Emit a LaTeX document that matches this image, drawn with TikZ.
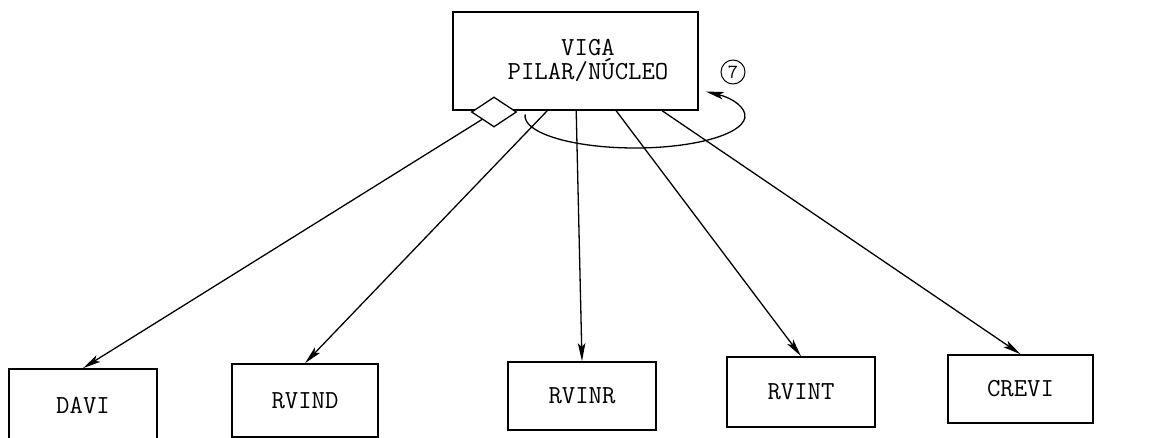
\documentclass[tikz,border=0pt]{standalone}
\usepackage{fontspec}
\usetikzlibrary{arrows.meta,shapes.geometric}
\begin{document}
\begin{tikzpicture}[x=1pt,y=-1pt,
  box/.style={draw, line width=1.6pt, rectangle, inner sep=0pt,
    font=\ttfamily\fontsize{26}{26}\selectfont},
  link/.style={line width=1.3pt, -{Stealth[length=18pt,width=7.5pt,inset=4pt]}},
  mark7/.style={draw, circle, line width=1pt, minimum size=24pt, inner sep=0pt,
    font=\ttfamily\fontsize{20}{20}\selectfont},
]
\useasboundingbox (0,0) rectangle (1154,438);

% main routine
\node[box, minimum width=245pt, minimum height=98pt] (viga) at (575.5,61) {};
\node[align=center, font=\ttfamily\fontsize{26}{24}\selectfont] (vigatext) at (588,60)
  {VIGA\\PILAR/NÚCLEO};
\node[draw, diamond, fill=white, line width=1.3pt, inner sep=0pt,
  minimum width=45pt, minimum height=30pt] (dia) at (494,112) {};

% called routines
\node[box, minimum width=148pt, minimum height=72pt] (davi)  at (83,405) {DAVI};
\node[box, minimum width=146pt, minimum height=73pt] (rvind) at (305,400.5) {RVIND};
\node[box, minimum width=148pt, minimum height=68pt] (rvinr) at (582,396) {RVINR};
\node[box, minimum width=148pt, minimum height=70pt] (rvint) at (801,392) {RVINT};
\node[box, minimum width=145pt, minimum height=68pt] (crevi) at (1020.5,389) {CREVI};

% calls
\draw[link] (dia) -- (davi.north);
\draw[link] ([xshift=95pt]viga.south west) -- (rvind.north);
\draw[link] ([xshift=124pt]viga.south west) -- (rvinr.north);
\draw[link] ([xshift=164pt]viga.south west) -- (rvint.north);
\draw[link] ([xshift=210pt]viga.south west) -- (crevi.north);

% loop
\coordinate (loopc) at (635,116);
\draw[link] ([shift={(183:110 and 32)}]loopc)
  arc[start angle=183, end angle=-50, x radius=110, y radius=32];
\node[mark7] (seven) at (733,72) {7};
\end{tikzpicture}
\end{document}
